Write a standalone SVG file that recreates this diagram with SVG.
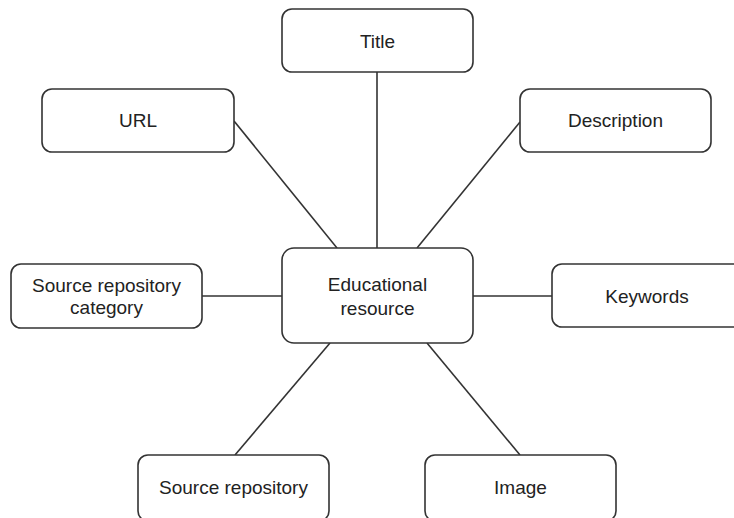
<svg xmlns="http://www.w3.org/2000/svg" width="734" height="518" viewBox="0 0 734 518">
<style>
.box{fill:#fff;stroke:#333;stroke-width:1.6}
.lbl{font-family:"Liberation Sans",Arial,sans-serif;font-size:19px;fill:#222;text-anchor:middle;dominant-baseline:central}
.edge{stroke:#333;stroke-width:1.6;fill:none}
</style>
<rect width="734" height="518" fill="#fff"/>
<g id="connectors">
<line class="edge" x1="377" y1="72" x2="377" y2="248"/>
<line class="edge" x1="234" y1="121" x2="337" y2="248"/>
<line class="edge" x1="520" y1="122" x2="417" y2="248"/>
<line class="edge" x1="202" y1="296" x2="282" y2="296"/>
<line class="edge" x1="473" y1="296" x2="552" y2="296"/>
<line class="edge" x1="330" y1="343" x2="235" y2="455"/>
<line class="edge" x1="427" y1="343" x2="520" y2="455"/>
</g>
<g id="node-title"><rect class="box" x="282" y="9" width="191" height="63" rx="10"/><text class="lbl" x="377.5" y="41">Title</text></g>
<g id="node-url"><rect class="box" x="42" y="89" width="192" height="63" rx="10"/><text class="lbl" x="138" y="120">URL</text></g>
<g id="node-description"><rect class="box" x="520" y="89" width="191" height="63" rx="10"/><text class="lbl" x="615.5" y="120">Description</text></g>
<g id="node-center"><rect class="box" x="282" y="248" width="191" height="95" rx="12"/><text class="lbl" x="377.5" y="284">Educational</text><text class="lbl" x="377.5" y="308">resource</text></g>
<g id="node-src-cat"><rect class="box" x="11" y="264" width="191" height="64" rx="10"/><text class="lbl" x="106.5" y="285">Source repository</text><text class="lbl" x="106.5" y="307">category</text></g>
<g id="node-keywords"><rect class="box" x="552" y="264" width="191" height="63" rx="10"/><text class="lbl" x="647" y="296">Keywords</text></g>
<g id="node-src-repo"><rect class="box" x="138" y="455" width="191" height="66" rx="10"/><text class="lbl" x="233.5" y="487">Source repository</text></g>
<g id="node-image"><rect class="box" x="425" y="455" width="191" height="66" rx="10"/><text class="lbl" x="520.5" y="487">Image</text></g>
</svg>
